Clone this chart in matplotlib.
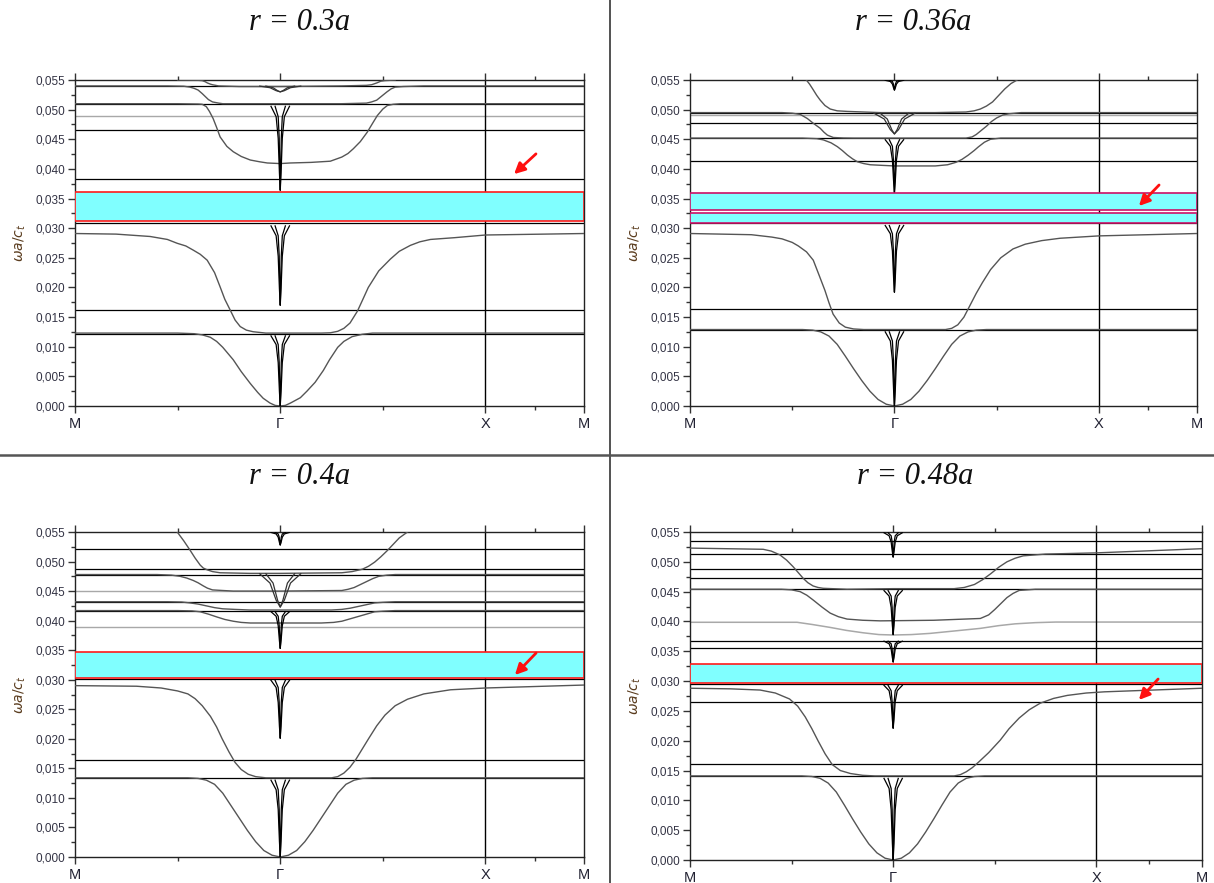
import matplotlib
matplotlib.use('Agg')
import matplotlib.pyplot as plt
from matplotlib.ticker import FixedLocator, FuncFormatter
from matplotlib.patches import FancyArrowPatch
from matplotlib.lines import Line2D

plt.rcParams['font.family'] = ['Liberation Sans', 'DejaVu Sans']

# k-path: M=0, Gamma=1, X=2, M=end
K_LABELS = ['M', 'Γ', 'X', 'M']
TITLES = ['r = 0.3a', 'r = 0.36a', 'r = 0.4a', 'r = 0.48a']

# x positions of the narrow dips at Gamma (outer / inner branch)
DIP_X = [0.955, 0.98, 0.99, 0.996, 1.0, 1.004, 1.01, 1.02, 1.045]
DIP_X_IN = [0.975, 0.99, 0.995, 0.998, 1.0, 1.002, 1.005, 1.01, 1.025]
WIDE_X = [0.90, 0.95, 0.98, 1.0, 1.02, 1.05, 1.10]
WIDE_X_IN = [0.93, 0.965, 0.987, 1.0, 1.013, 1.035, 1.07]

# ---------------- r = 0.3a ----------------
TL_BLACK = [0.0540, 0.0510, 0.0465, 0.03835, 0.0308, 0.01625, 0.0122]
TL_GRAY = [0.0490]
TL_BANDS = [(0.0312, 0.0361)]
TL_C1_X = [0.50, 0.60, 0.62, 0.635, 0.645, 0.66, 0.67, 0.70, 0.80, 1.0, 1.30, 1.42, 1.445, 1.47, 1.49, 1.51, 1.56]
TL_C1_Y = [0.0550, 0.05495, 0.0549, 0.0547, 0.0545, 0.0543, 0.0542, 0.0540, 0.0539, 0.0539, 0.0540, 0.0541, 0.0542, 0.0545, 0.0548, 0.0549, 0.0550]
TL_C2_X = [0, 0.45, 0.53, 0.56, 0.58, 0.60, 0.62, 0.635, 0.65, 0.67, 0.70, 0.72, 1.0, 1.30, 1.42, 1.445, 1.47, 1.495, 1.52, 1.54, 1.56, 1.6, 1.7, 2.48]
TL_C2_Y = [0.0540, 0.0540, 0.05395, 0.0538, 0.0536, 0.0533, 0.0527, 0.0522, 0.0517, 0.0513, 0.0511, 0.0510, 0.0510, 0.0510, 0.0511, 0.0513, 0.0516, 0.0523, 0.0530, 0.0535, 0.0538, 0.0539, 0.0540, 0.0540]
TL_C3_X = [0, 0.5, 0.60, 0.62, 0.64, 0.655, 0.673, 0.69, 0.707, 0.74, 0.771, 0.81, 0.854, 0.9, 0.937, 1.0,
           1.049, 1.15, 1.244, 1.30, 1.33, 1.356, 1.39, 1.424, 1.45, 1.473, 1.50, 1.522, 1.55, 1.585, 2.48]
TL_C3_Y = [0.0510, 0.0510, 0.05095, 0.0509, 0.0505, 0.0497, 0.0485, 0.0470, 0.0454, 0.0438, 0.0429, 0.0421, 0.0415, 0.0412, 0.0410, 0.0409,
           0.0410, 0.0411, 0.0413, 0.0420, 0.0426, 0.0434, 0.0446, 0.0462, 0.0477, 0.0490, 0.0501, 0.0507, 0.0509, 0.0510, 0.0510]
TL_C4_X = [0, 0.2, 0.366, 0.45, 0.498, 0.54, 0.576, 0.61, 0.644, 0.68, 0.707, 0.73, 0.756, 0.78, 0.805, 0.835, 0.868, 0.93, 1.0,
           1.2, 1.244, 1.28, 1.31, 1.34, 1.376, 1.40, 1.429, 1.48, 1.537, 1.58, 1.634, 1.68, 1.732, 1.85, 2.0, 2.48]
TL_C4_Y = [0.0291, 0.0290, 0.0286, 0.0281, 0.02745, 0.0270, 0.0263, 0.0256, 0.0246, 0.0225, 0.0201, 0.0180, 0.0162, 0.0145, 0.0134, 0.0128, 0.01253, 0.0123, 0.0123,
           0.0123, 0.01235, 0.0126, 0.0131, 0.0140, 0.0160, 0.0178, 0.0200, 0.0228, 0.0248, 0.0261, 0.0271, 0.0277, 0.0281, 0.0284, 0.02885, 0.0291]
TL_C5_X = [0, 0.5, 0.58, 0.62, 0.659, 0.69, 0.72, 0.771, 0.81, 0.854, 0.89, 0.917, 0.95, 0.975, 1.0,
           1.025, 1.05, 1.098, 1.13, 1.17, 1.21, 1.24, 1.28, 1.31, 1.35, 1.40, 1.45, 2.48]
TL_C5_Y = [0.0123, 0.0123, 0.0122, 0.0120, 0.0116, 0.0109, 0.0099, 0.0078, 0.0058, 0.0038, 0.0023, 0.0013, 0.0005, 0.0001, 0.0,
           0.0001, 0.0005, 0.0014, 0.0025, 0.0040, 0.0060, 0.0078, 0.0099, 0.0109, 0.0117, 0.0121, 0.0123, 0.0123]
TL_DIPS = [
    [0.05056, 0.04881, 0.04516, 0.03932, 0.0364, 0.03932, 0.04516, 0.04881, 0.05056],
    [0.03039, 0.02873, 0.02528, 0.01976, 0.0170, 0.01976, 0.02528, 0.02873, 0.03039],
    [0.01183, 0.01037, 0.00732, 0.00244, 0.0, 0.00244, 0.00732, 0.01037, 0.01183],
]
TL_WIDE = [[0.05397, 0.0537, 0.0532, 0.0530, 0.0532, 0.0537, 0.05397]]

# ---------------- r = 0.36a ----------------
TR_BLACK = [0.0495, 0.0477, 0.0452, 0.0413, 0.0308, 0.0163, 0.0128]
TR_GRAY = [0.0491]
TR_BANDS = [(0.0331, 0.0359), (0.0309, 0.0326)]
TR_C1_X = [0.569, 0.585, 0.60, 0.62, 0.637, 0.66, 0.686, 0.72, 0.77, 0.931, 1.0, 1.2, 1.35, 1.39, 1.42, 1.45, 1.48, 1.51, 1.54, 1.57, 1.60]
TR_C1_Y = [0.0550, 0.0543, 0.0535, 0.0524, 0.0516, 0.0507, 0.0501, 0.0498, 0.0497, 0.0495, 0.0495, 0.0495, 0.0496, 0.0498, 0.0501, 0.0506, 0.0513, 0.0524, 0.0535, 0.0544, 0.0550]
TR_C2_X = [0, 0.45, 0.50, 0.539, 0.574, 0.603, 0.637, 0.655, 0.672, 0.701, 0.75, 0.8, 1.0,
           1.35, 1.38, 1.40, 1.425, 1.45, 1.475, 1.50, 1.53, 1.56, 1.62, 2.48]
TR_C2_Y = [0.0495, 0.0495, 0.0494, 0.0492, 0.0485, 0.0477, 0.04685, 0.0462, 0.0457, 0.0453, 0.04522, 0.0452, 0.0452,
           0.0452, 0.0454, 0.0458, 0.0465, 0.0472, 0.0480, 0.0486, 0.0491, 0.0493, 0.0495, 0.0495]
TR_C3_X = [0, 0.55, 0.62, 0.652, 0.69, 0.721, 0.745, 0.770, 0.795, 0.819, 0.85, 0.882, 0.94, 1.0,
           1.2, 1.26, 1.30, 1.33, 1.36, 1.39, 1.41, 1.44, 1.47, 1.52, 2.48]
TR_C3_Y = [0.0452, 0.0452, 0.0451, 0.0449, 0.0444, 0.04375, 0.0431, 0.04234, 0.0417, 0.0412, 0.0409, 0.0407, 0.0406, 0.0405,
           0.0405, 0.0407, 0.0411, 0.0416, 0.0423, 0.0431, 0.0437, 0.0445, 0.0450, 0.0452, 0.0452]
TR_C4_X = [0, 0.3, 0.40, 0.45, 0.50, 0.53, 0.57, 0.603, 0.63, 0.66, 0.68, 0.70, 0.73, 0.76, 0.80, 0.85, 1.0,
           1.25, 1.28, 1.31, 1.34, 1.37, 1.40, 1.43, 1.47, 1.52, 1.58, 1.64, 1.72, 1.81, 2.0, 2.48]
TR_C4_Y = [0.0291, 0.0289, 0.0285, 0.0282, 0.0276, 0.0270, 0.0260, 0.0246, 0.0222, 0.0195, 0.0174, 0.0155, 0.0140, 0.0133, 0.0130, 0.0129, 0.0129,
           0.0129, 0.0131, 0.0137, 0.0150, 0.0170, 0.0190, 0.0208, 0.0230, 0.0250, 0.0265, 0.0273, 0.0279, 0.0283, 0.0287, 0.0291]
TR_C5_X = [0, 0.55, 0.6, 0.64, 0.68, 0.72, 0.76, 0.80, 0.84, 0.88, 0.92, 0.96, 1.0,
           1.04, 1.08, 1.12, 1.16, 1.20, 1.24, 1.28, 1.32, 1.36, 1.40, 1.45, 2.48]
TR_C5_Y = [0.0129, 0.0129, 0.0128, 0.0125, 0.0118, 0.0104, 0.0084, 0.0063, 0.0043, 0.0025, 0.0011, 0.0003, 0.0,
           0.0003, 0.0011, 0.0025, 0.0043, 0.0063, 0.0084, 0.0104, 0.0118, 0.0125, 0.0128, 0.0129, 0.0129]
TR_DIPS = [
    [0.05495, 0.05475, 0.05432, 0.05364, 0.0533, 0.05364, 0.05432, 0.05475, 0.05495],
    [0.04492, 0.04382, 0.04152, 0.03784, 0.0360, 0.03784, 0.04152, 0.04382, 0.04492],
    [0.03045, 0.02906, 0.02616, 0.02152, 0.0192, 0.02152, 0.02616, 0.02906, 0.03045],
    [0.01251, 0.01097, 0.00774, 0.00258, 0.0, 0.00258, 0.00774, 0.01097, 0.01251],
]
TR_WIDE = [[0.04939, 0.04842, 0.04662, 0.0459, 0.04662, 0.04842, 0.04939]]

# ---------------- r = 0.4a ----------------
BL_BLACK = [0.0521, 0.0488, 0.0478, 0.0432, 0.0417, 0.0302, 0.0164, 0.0134]
BL_GRAY = [0.0450, 0.0389]
BL_BANDS = [(0.0303, 0.0347)]
BL_C1_X = [0.498, 0.53, 0.561, 0.585, 0.610, 0.625, 0.644, 0.67, 0.707, 0.85, 1.0,
           1.3, 1.35, 1.40, 1.43, 1.46, 1.49, 1.52, 1.55, 1.58, 1.62]
BL_C1_Y = [0.0550, 0.0535, 0.0519, 0.0506, 0.0494, 0.0489, 0.0486, 0.0483, 0.0481, 0.0480, 0.0480,
           0.0481, 0.0483, 0.0487, 0.0492, 0.0499, 0.0508, 0.0518, 0.0529, 0.0540, 0.0550]
BL_C2_X = [0, 0.4, 0.47, 0.512, 0.545, 0.576, 0.60, 0.624, 0.645, 0.67, 0.72, 0.771, 1.0,
           1.3, 1.33, 1.36, 1.39, 1.42, 1.45, 1.48, 1.52, 1.56, 2.48]
BL_C2_Y = [0.0478, 0.0478, 0.0477, 0.0475, 0.0472, 0.0468, 0.0464, 0.0459, 0.0455, 0.0452, 0.0451, 0.0450, 0.0450,
           0.0451, 0.0453, 0.0456, 0.0461, 0.0466, 0.0471, 0.0475, 0.0477, 0.0478, 0.0478]
BL_C3_X = [0, 0.45, 0.52, 0.56, 0.60, 0.64, 0.68, 0.72, 0.78, 0.85, 1.0,
           1.25, 1.30, 1.34, 1.38, 1.42, 1.46, 1.50, 1.56, 2.48]
BL_C3_Y = [0.0432, 0.0432, 0.04315, 0.0430, 0.0428, 0.0425, 0.0422, 0.0420, 0.0419, 0.0418, 0.0418,
           0.0418, 0.0419, 0.0421, 0.0424, 0.0427, 0.0430, 0.0431, 0.0432, 0.0432]
BL_C4_X = [0, 0.5, 0.57, 0.61, 0.65, 0.693, 0.73, 0.771, 0.81, 0.854, 1.0,
           1.2, 1.26, 1.30, 1.34, 1.38, 1.42, 1.46, 1.5, 1.56, 2.48]
BL_C4_Y = [0.0417, 0.0417, 0.04165, 0.0415, 0.0411, 0.0406, 0.0402, 0.0399, 0.0397, 0.0396, 0.0396,
           0.0396, 0.0397, 0.0399, 0.0403, 0.0407, 0.0411, 0.0415, 0.0416, 0.0417, 0.0417]
BL_C5_X = [0, 0.3, 0.42, 0.5, 0.55, 0.585, 0.62, 0.66, 0.69, 0.717, 0.75, 0.78, 0.81, 0.844, 0.88, 0.93, 1.0,
           1.25, 1.28, 1.31, 1.34, 1.37, 1.40, 1.43, 1.47, 1.51, 1.56, 1.62, 1.70, 1.83, 2.0, 2.48]
BL_C5_Y = [0.0290, 0.0289, 0.0286, 0.0281, 0.0276, 0.0268, 0.0256, 0.0238, 0.0220, 0.0200, 0.0178, 0.0160, 0.0148, 0.0140, 0.0136, 0.0134, 0.0134,
           0.0134, 0.0136, 0.0142, 0.0152, 0.0166, 0.0183, 0.0200, 0.0222, 0.0240, 0.0256, 0.0267, 0.0276, 0.0283, 0.0286, 0.0291]
BL_C6_X = [0, 0.55, 0.6, 0.64, 0.68, 0.72, 0.76, 0.80, 0.84, 0.88, 0.92, 0.96, 1.0,
           1.04, 1.08, 1.12, 1.16, 1.20, 1.24, 1.28, 1.32, 1.36, 1.40, 1.45, 2.48]
BL_C6_Y = [0.0134, 0.0134, 0.0133, 0.0130, 0.0123, 0.0108, 0.0087, 0.0066, 0.0045, 0.0026, 0.0011, 0.0003, 0.0,
           0.0003, 0.0011, 0.0026, 0.0045, 0.0066, 0.0087, 0.0108, 0.0123, 0.0130, 0.0133, 0.0134, 0.0134]
BL_DIPS = [
    [0.05493, 0.05467, 0.05412, 0.05324, 0.0528, 0.05324, 0.05412, 0.05467, 0.05493],
    [0.04151, 0.04074, 0.03914, 0.03658, 0.0353, 0.03658, 0.03914, 0.04074, 0.04151],
    [0.0299, 0.02869, 0.02616, 0.02212, 0.0201, 0.02212, 0.02616, 0.02869, 0.0299],
    [0.0130, 0.01139, 0.00804, 0.00268, 0.0, 0.00268, 0.00804, 0.01139, 0.0130],
]
BL_WIDE = [[0.04793, 0.04636, 0.04346, 0.0423, 0.04346, 0.04636, 0.04793]]

# ---------------- r = 0.48a ----------------
BR_BLACK = [0.05355, 0.05127, 0.0488, 0.04724, 0.0454, 0.03676, 0.0356, 0.02947, 0.0265, 0.0161, 0.0141]
BR_GRAY = []
BR_BANDS = [(0.0296, 0.0328)]
BR_C1_X = [0, 0.36, 0.40, 0.443, 0.475, 0.507, 0.53, 0.557, 0.58, 0.606, 0.63, 0.655, 0.773, 1.0,
           1.30, 1.35, 1.40, 1.44, 1.48, 1.52, 1.56, 1.60, 1.64, 1.75, 2.0, 2.52]
BR_C1_Y = [0.0523, 0.0521, 0.0518, 0.05115, 0.0503, 0.0492, 0.0483, 0.04724, 0.0465, 0.04595, 0.0457, 0.04556, 0.0454, 0.0455,
           0.0455, 0.0457, 0.0462, 0.0470, 0.0480, 0.0491, 0.0500, 0.0506, 0.0510, 0.0513, 0.0515, 0.0522]
BR_C2_X = [0, 0.45, 0.50, 0.542, 0.575, 0.606, 0.65, 0.690, 0.73, 0.773, 0.85, 0.936, 1.2,
           1.429, 1.47, 1.50, 1.53, 1.56, 1.59, 1.62, 1.7, 2.52]
BR_C2_Y = [0.0454, 0.0454, 0.0453, 0.0450, 0.0444, 0.0436, 0.0424, 0.0414, 0.0408, 0.0404, 0.0402, 0.0401, 0.0402,
           0.0405, 0.0411, 0.0420, 0.0430, 0.0440, 0.0447, 0.0452, 0.0454, 0.0454]
BR_C3_X = [0, 0.527, 0.60, 0.690, 0.77, 0.852, 0.93, 1.0, 1.09, 1.182, 1.30, 1.429, 1.52, 1.6, 1.7, 1.8, 2.52]
BR_C3_Y = [0.03986, 0.03986, 0.0395, 0.0390, 0.0385, 0.0381, 0.0378, 0.03773, 0.0378, 0.0380, 0.0384, 0.03884, 0.0393, 0.0396, 0.0398, 0.0399, 0.0399]
BR_C4_X = [0, 0.2, 0.345, 0.42, 0.49, 0.53, 0.567, 0.60, 0.63, 0.665, 0.70, 0.74, 0.79, 0.85, 0.91, 1.0,
           1.30, 1.33, 1.36, 1.39, 1.42, 1.47, 1.527, 1.57, 1.62, 1.67, 1.724, 1.79, 1.857, 1.95, 2.04, 2.52]
BR_C4_Y = [0.0288, 0.0287, 0.0285, 0.0280, 0.0270, 0.0258, 0.0240, 0.0220, 0.0200, 0.0178, 0.0160, 0.0150, 0.0145, 0.0142, 0.0141, 0.0141,
           0.0141, 0.0143, 0.0148, 0.0155, 0.0164, 0.0180, 0.0201, 0.0220, 0.0238, 0.0252, 0.0263, 0.0271, 0.0276, 0.0280, 0.0282, 0.0288]
BR_C5_X = [0, 0.55, 0.6, 0.64, 0.68, 0.72, 0.76, 0.80, 0.84, 0.88, 0.92, 0.96, 1.0,
           1.04, 1.08, 1.12, 1.16, 1.20, 1.24, 1.28, 1.32, 1.36, 1.40, 1.45, 2.52]
BR_C5_Y = [0.0141, 0.0141, 0.0140, 0.0137, 0.0129, 0.0114, 0.0092, 0.0069, 0.0047, 0.0027, 0.0012, 0.0003, 0.0,
           0.0003, 0.0012, 0.0027, 0.0047, 0.0069, 0.0092, 0.0114, 0.0129, 0.0137, 0.0140, 0.0141, 0.0141]
BR_DIPS = [
    [0.05487, 0.05437, 0.05332, 0.05164, 0.0508, 0.05164, 0.05332, 0.05437, 0.05487],
    [0.04517, 0.04426, 0.04236, 0.03932, 0.0378, 0.03932, 0.04236, 0.04426, 0.04517],
    [0.03669, 0.03626, 0.03536, 0.03392, 0.0332, 0.03392, 0.03536, 0.03626, 0.03669],
    [0.02928, 0.02839, 0.02654, 0.02358, 0.0221, 0.02358, 0.02654, 0.02839, 0.02928],
    [0.01368, 0.01199, 0.00846, 0.00282, 0.0, 0.00282, 0.00846, 0.01199, 0.01368],
]
BR_WIDE = []

CURVE_C = '#555555'


def draw_panel(ax, xmax, black, gray, bands, band_edge, curves, gray_curves, dips, wide):
    for y in black:
        ax.axhline(y, color='black', lw=0.9, zorder=2)
    for y in gray:
        ax.axhline(y, color='#a8a8a8', lw=1.0, zorder=2)
    for xs, ys in gray_curves:
        ax.plot(xs, ys, color='#a8a8a8', lw=1.1, zorder=2)
    for xs, ys in curves:
        ax.plot(xs, ys, color=CURVE_C, lw=1.0, zorder=3)
    for ys in dips:
        ax.plot(DIP_X, ys, color='black', lw=0.9, zorder=3)
        ax.plot(DIP_X_IN, ys, color='black', lw=0.9, zorder=3)
    for ys in wide:
        ax.plot(WIDE_X, ys, color='#333333', lw=0.9, zorder=3)
        ax.plot(WIDE_X_IN, ys, color='#333333', lw=0.9, zorder=3)
    for lo, hi in bands:
        ax.axhspan(lo, hi, facecolor='#80ffff', edgecolor=band_edge, lw=1.2, zorder=4)
    ax.axvline(2.0, color='black', lw=1.0, zorder=2)

    ax.set_xlim(0, xmax)
    ax.set_ylim(0, 0.055)
    ax.xaxis.set_major_locator(FixedLocator([0, 1, 2, xmax]))
    ax.xaxis.set_minor_locator(FixedLocator([0.5, 1.5, (2 + xmax) / 2]))
    ax.set_xticklabels(K_LABELS)
    ax.yaxis.set_major_locator(FixedLocator([i * 0.005 for i in range(12)]))
    ax.yaxis.set_minor_locator(FixedLocator([0.0025 + i * 0.005 for i in range(11)]))
    ax.yaxis.set_major_formatter(FuncFormatter(lambda v, p: f'{v:.3f}'.replace('.', ',')))
    ax.tick_params(axis='both', which='both', direction='out', top=True, right=False,
                   color='#333333', width=1.0)
    ax.tick_params(axis='both', which='major', length=5)
    ax.tick_params(axis='both', which='minor', length=3)
    ax.tick_params(axis='y', labelsize=8.5, labelcolor='#333344', pad=2)
    ax.tick_params(axis='x', labelsize=10.5, labelcolor='#222233', pad=3)
    for s in ax.spines.values():
        s.set_linewidth(1.0)
        s.set_color('#222222')
    ax.set_ylabel(r'$\omega a/c_t$', fontsize=10, color='#5a3c1e')
    ax.yaxis.set_label_coords(-0.092, 0.5)


fig = plt.figure(figsize=(12.14, 8.83), dpi=100)
W, H = 1214.0, 883.0


def pax(x0, y0, x1, y1):
    return fig.add_axes([x0 / W, 1 - y1 / H, (x1 - x0) / W, (y1 - y0) / H])


ax_tl = pax(75, 80, 584, 406)
ax_tr = pax(690, 80, 1197, 406)
ax_bl = pax(75, 532, 584, 857)
ax_br = pax(690, 532, 1202, 860)

draw_panel(ax_tl, 2.48, TL_BLACK, TL_GRAY, TL_BANDS, '#ff1a1a',
           [(TL_C1_X, TL_C1_Y), (TL_C2_X, TL_C2_Y), (TL_C3_X, TL_C3_Y),
            (TL_C4_X, TL_C4_Y), (TL_C5_X, TL_C5_Y)], [], TL_DIPS, TL_WIDE)
draw_panel(ax_tr, 2.48, TR_BLACK, TR_GRAY, TR_BANDS, '#cc1166',
           [(TR_C1_X, TR_C1_Y), (TR_C2_X, TR_C2_Y), (TR_C3_X, TR_C3_Y),
            (TR_C4_X, TR_C4_Y), (TR_C5_X, TR_C5_Y)], [], TR_DIPS, TR_WIDE)
draw_panel(ax_bl, 2.48, BL_BLACK, BL_GRAY, BL_BANDS, '#ff1a1a',
           [(BL_C1_X, BL_C1_Y), (BL_C2_X, BL_C2_Y), (BL_C3_X, BL_C3_Y),
            (BL_C4_X, BL_C4_Y), (BL_C5_X, BL_C5_Y), (BL_C6_X, BL_C6_Y)], [], BL_DIPS, BL_WIDE)
draw_panel(ax_br, 2.52, BR_BLACK, BR_GRAY, BR_BANDS, '#ff1a1a',
           [(BR_C1_X, BR_C1_Y), (BR_C2_X, BR_C2_Y),
            (BR_C4_X, BR_C4_Y), (BR_C5_X, BR_C5_Y)], [(BR_C3_X, BR_C3_Y)], BR_DIPS, BR_WIDE)

# titles
for (tx, ty), t in zip([(300, 22), (913, 22), (300, 476), (915, 476)], TITLES):
    fig.text(tx / W, 1 - ty / H, t, ha='center', va='center', fontsize=22,
             family='Liberation Serif', style='italic', color='#111111')

# separators
fig.add_artist(Line2D([610 / W, 610 / W], [0, 1], color='#444444', lw=1.3))
fig.add_artist(Line2D([0, 1], [1 - 455 / H, 1 - 455 / H], color='#555555', lw=1.8))

# red arrows
for (x0, y0), (x1, y1) in [((538, 152), (512, 176)), ((1161, 183), (1137, 208)),
                           ((538, 651), (513, 677)), ((1160, 677), (1137, 702))]:
    fig.add_artist(FancyArrowPatch((x0 / W, 1 - y0 / H), (x1 / W, 1 - y1 / H),
                                   transform=fig.transFigure, arrowstyle='-|>',
                                   mutation_scale=16, color='#ff1010', lw=2.0))

fig.savefig('out.png', dpi=100)
